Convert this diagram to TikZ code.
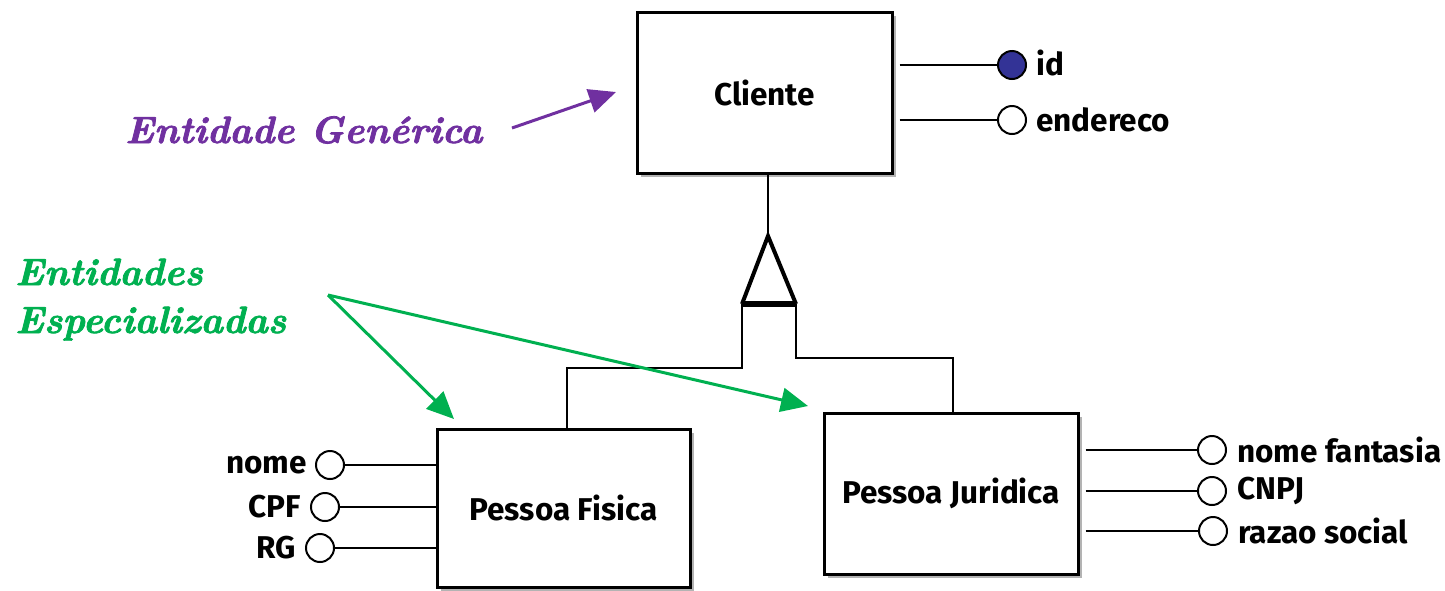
\documentclass[tikz,border=0pt]{standalone}
\usepackage{fontspec}
\newfontfamily\diafont{Fira Sans}
\newfontfamily\annfont[FakeBold=2]{Latin Modern Roman}
\usetikzlibrary{arrows.meta,shadows}
\definecolor{purp}{HTML}{7030A0}
\definecolor{grn}{HTML}{00B050}
\definecolor{idblue}{RGB}{51,51,150}
\begin{document}
\begin{tikzpicture}[x=1pt,y=-1pt,
  ent/.style={draw=black,line width=3pt,fill=white,inner sep=0pt,
    drop shadow={shadow xshift=3.5pt,shadow yshift=-3.5pt,opacity=0.6,fill=gray},
    font=\diafont\bfseries\fontsize{31.5}{37}\selectfont},
  attr/.style={draw=black,line width=2pt,fill=white,circle,inner sep=0pt,minimum size=28pt},
  alab/.style={font=\diafont\bfseries\fontsize{31.5}{37}\selectfont,inner sep=0pt},
  link/.style={draw=black,line width=2.6pt},
  ann/.style={font=\annfont\bfseries\itshape\fontsize{38}{48}\selectfont,inner sep=0pt},
  annarrow/.style={line width=3pt,-{Triangle[length=27pt,width=24pt]}}]
\useasboundingbox (0,0) rectangle (1445,590);

% entities
\node[ent,minimum width=255pt,minimum height=161pt] (C) at (764.5,92.5) {Cliente};
\node[ent,minimum width=253pt,minimum height=158pt] (F) at (563.5,508) {Pessoa Fisica};
\node[ent,minimum width=254pt,minimum height=161pt] (J) at (951,493.5) {Pessoa Juridica};

% specialization triangle
\coordinate (apex) at (768,236);
\coordinate (bl) at (742,304);
\coordinate (br) at (796,304);
\draw[link] (apex |- C.south) -- (apex);
\draw[line width=4pt,line join=miter] (bl) -- (apex) -- (br);
\draw[line width=6pt] (bl) -- (br);
\coordinate (lk) at (742,368);
\coordinate (lm) at (567,368);
\coordinate (rk) at (796,358);
\coordinate (rm) at (953,358);
\draw[link] (bl) -- (lk) -- (lm) -- (lm |- F.north);
\draw[link] (br) -- (rk) -- (rm) -- (rm |- J.north);

% Cliente attributes
\node[attr,fill=idblue] (aid) at (1012,65) {};
\node[attr] (aend) at (1012,120) {};
\draw[link] ([xshift=6pt]C.east |- aid) -- (aid.west);
\draw[link] ([xshift=6pt]C.east |- aend) -- (aend.west);
\node[alab,anchor=west] (lid) at (1036,63) {id};
\node[alab,anchor=west] (lend) at (1036,120) {endereco};

% Pessoa Fisica attributes
\node[attr] (anome) at (330,465) {};
\node[attr] (acpf) at (325,507) {};
\node[attr] (arg) at (320,548) {};
\draw[link] (anome.east) -- (anome -| F.west);
\draw[link] (acpf.east) -- (acpf -| F.west);
\draw[link] (arg.east) -- (arg -| F.west);
\node[alab,anchor=east] (lnome) at (307,465) {nome};
\node[alab,anchor=east] (lcpf) at (301,507) {CPF};
\node[alab,anchor=east] (lrg) at (296,548) {RG};

% Pessoa Juridica attributes
\node[attr] (anf) at (1212,450) {};
\node[attr] (acnpj) at (1212,491) {};
\node[attr] (ars) at (1213,531) {};
\draw[link] ([xshift=6pt]J.east |- anf) -- (anf.west);
\draw[link] ([xshift=6pt]J.east |- acnpj) -- (acnpj.west);
\draw[link] ([xshift=6pt]J.east |- ars) -- (ars.west);
\node[alab,anchor=west] (lnf) at (1237,450) {nome fantasia};
\node[alab,anchor=west] (lcnpj) at (1237,491) {CNPJ};
\node[alab,anchor=west] (lrs) at (1238,531) {razao social};

% annotations
\node[ann,text=purp,anchor=base west] (gen) at (125,143) {Entidade Genérica};
\coordinate (gs) at (512,128);
\coordinate (ge) at (616,92);
\draw[annarrow,purp] (gs) -- (ge);

\node[ann,text=grn,anchor=base west,align=left] (esp) at (15,333) {Entidades\\Especializadas};
\coordinate (es) at (328,295);
\coordinate (ef) at (454,419);
\coordinate (ej) at (808,406);
\draw[annarrow,grn] (es) -- (ef);
\draw[annarrow,grn] (es) -- (ej);
\end{tikzpicture}
\end{document}
